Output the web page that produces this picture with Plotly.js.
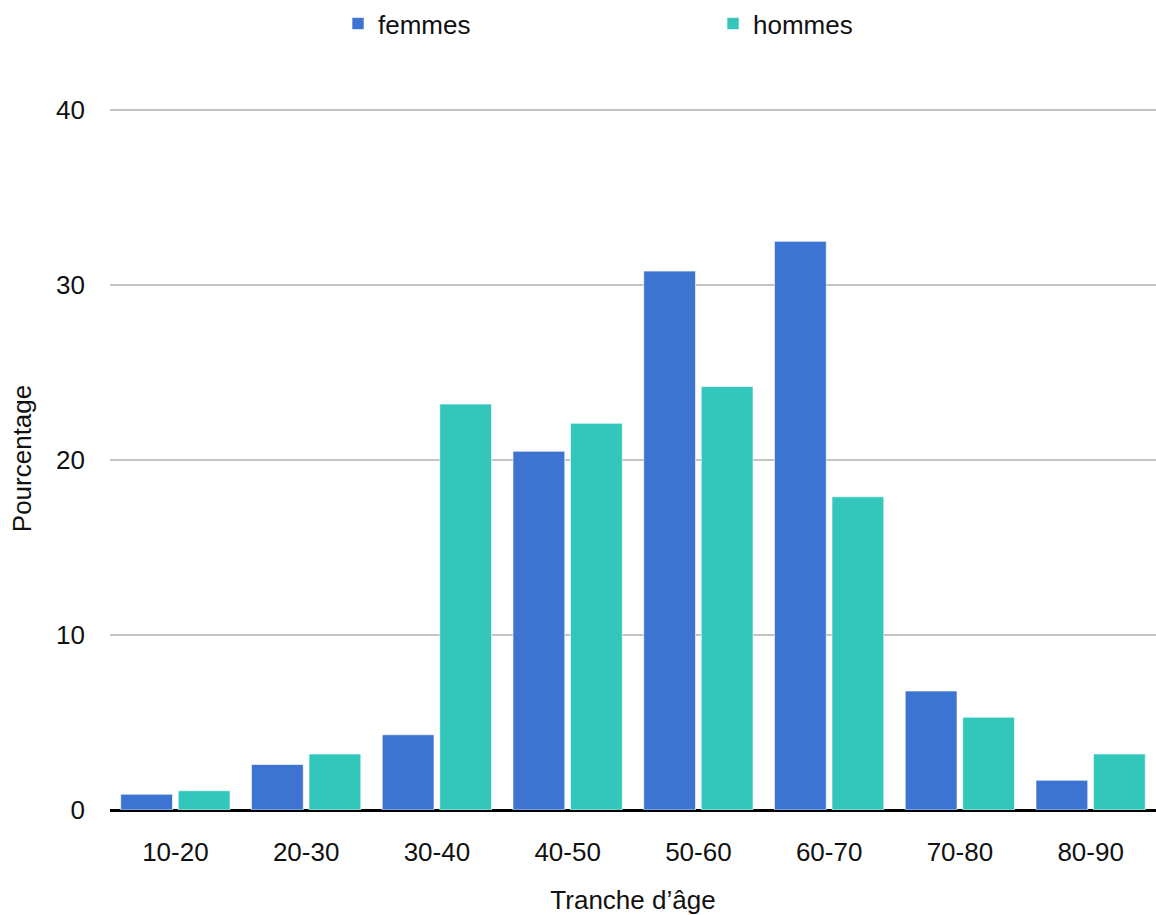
<!DOCTYPE html>
<html>
<head>
<meta charset="utf-8">
<script src="https://cdn.plot.ly/plotly-3.0.1.min.js"></script>
<style>
  html, body { margin: 0; padding: 0; background: #ffffff; }
  #chart { width: 1156px; height: 915px; }
</style>
</head>
<body>
<div id="chart"></div>
<script>
// Age brackets
const ageGroups = ['10-20', '20-30', '30-40', '40-50', '50-60', '60-70', '70-80', '80-90'];
// Share of each bracket (%)
const femmes = [0.9, 2.6, 4.3, 20.5, 30.8, 32.5, 6.8, 1.7];
const hommes = [1.1, 3.2, 23.2, 22.1, 24.2, 17.9, 5.3, 3.2];
// Y axis ticks
const yTicks = [0, 10, 20, 30, 40];

const FONT = 'Liberation Sans, Arial, sans-serif';
const TEXT = '#111111';

const traces = [
  {
    type: 'bar', name: 'femmes', x: ageGroups, y: femmes,
    marker: { color: '#3d74d1', line: { color: 'rgba(255,255,255,0.6)', width: 1 } },
    hoverinfo: 'x+y+name'
  },
  {
    type: 'bar', name: 'hommes', x: ageGroups, y: hommes,
    marker: { color: '#33c6ba', line: { color: 'rgba(255,255,255,0.6)', width: 1 } },
    hoverinfo: 'x+y+name'
  }
];

// Small headroom above 40 so its gridline is kept inside the plot area
const layout = {
  width: 1156, height: 915,
  margin: { l: 110, r: 0, t: 107, b: 105, pad: 0 },
  paper_bgcolor: '#ffffff', plot_bgcolor: '#ffffff',
  font: { family: FONT, size: 26, color: TEXT },
  barmode: 'group',
  bargap: 0.12,
  bargroupgap: 0.1,
  showlegend: true,
  legend: {
    orientation: 'h', x: 0.218, xanchor: 'left', y: 1.152, yanchor: 'top',
    font: { family: FONT, size: 26, color: TEXT },
    entrywidth: 330, entrywidthmode: 'pixels',
    itemclick: false, itemdoubleclick: false
  },
  xaxis: {
    type: 'category',
    showgrid: false, showline: false, zeroline: false,
    ticks: '', ticklabelstandoff: 24,
    tickfont: { family: FONT, size: 26, color: TEXT },
    title: { text: 'Tranche d\u2019âge', font: { family: FONT, size: 26, color: TEXT }, standoff: 26 },
    automargin: false
  },
  yaxis: {
    range: [0, 40.18], tickvals: yTicks, ticktext: yTicks.map(String),
    showgrid: true, gridcolor: '#c4c4c4', gridwidth: 1.5,
    zeroline: true, zerolinecolor: '#000000', zerolinewidth: 2.5,
    showline: false, ticks: '', ticklabelstandoff: 24,
    tickfont: { family: FONT, size: 26, color: TEXT },
    title: { text: 'Pourcentage', font: { family: FONT, size: 26, color: TEXT }, standoff: 16 },
    automargin: false
  }
};

Plotly.newPlot('chart', traces, layout, { displayModeBar: false });
</script>
</body>
</html>
